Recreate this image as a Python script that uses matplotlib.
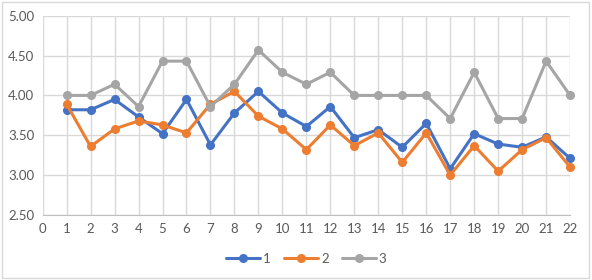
import matplotlib
matplotlib.use("Agg")
import matplotlib.pyplot as plt
from matplotlib.patches import Rectangle

# x positions (1..22) and the three series
x = list(range(1, 23))
series_1 = [3.82, 3.82, 3.95, 3.73, 3.52, 3.95, 3.38, 3.78, 4.05, 3.78, 3.61,
            3.86, 3.47, 3.57, 3.35, 3.65, 3.08, 3.52, 3.39, 3.35, 3.48, 3.21]
series_2 = [3.89, 3.36, 3.58, 3.68, 3.63, 3.53, 3.89, 4.05, 3.74, 3.58, 3.32,
            3.63, 3.37, 3.53, 3.16, 3.53, 3.00, 3.37, 3.05, 3.32, 3.47, 3.10]
series_3 = [4.00, 4.00, 4.14, 3.86, 4.43, 4.43, 3.86, 4.14, 4.57, 4.29, 4.14,
            4.29, 4.00, 4.00, 4.00, 4.00, 3.71, 4.29, 3.71, 3.71, 4.43, 4.00]
labels = ["1", "2", "3"]
colors = ["#4472C4", "#ED7D31", "#A5A5A5"]

plt.rcParams["font.family"] = ["Lato", "DejaVu Sans"]

fig = plt.figure(figsize=(5.92, 2.8), dpi=100)
ax = fig.add_axes([0.072, 0.232, 0.891, 0.712])

for ys, lab, c in zip([series_1, series_2, series_3], labels, colors):
    ax.plot(x, ys, color=c, lw=2.2, marker="o", ms=5.5, label=lab,
            solid_capstyle="round", zorder=3, clip_on=False)

ax.set_xlim(0, 22)
ax.set_ylim(2.5, 5.0)
ax.set_xticks(range(0, 23))
ax.set_yticks([2.5, 3.0, 3.5, 4.0, 4.5, 5.0])
ax.set_yticklabels([f"{v:.2f}" for v in ax.get_yticks()])
ax.grid(True, color="#D9D9D9", lw=1)
ax.set_axisbelow(True)
for s in ["top", "right", "left"]:
    ax.spines[s].set_visible(False)
ax.spines["bottom"].set_color("#BFBFBF")
ax.tick_params(length=0, labelsize=9.5, colors="#595959", pad=6)

ax.legend(loc="upper center", bbox_to_anchor=(0.5, -0.13), ncol=3, frameon=False,
          fontsize=9.5, labelcolor="#595959", handlelength=2.6, columnspacing=1.0,
          handletextpad=0.2)

# chart border
fig.patches.append(Rectangle((0.004, 0.007), 0.991, 0.986, transform=fig.transFigure,
                             fill=False, edgecolor="#D9D9D9", lw=1))

fig.savefig("out.png", dpi=100)
